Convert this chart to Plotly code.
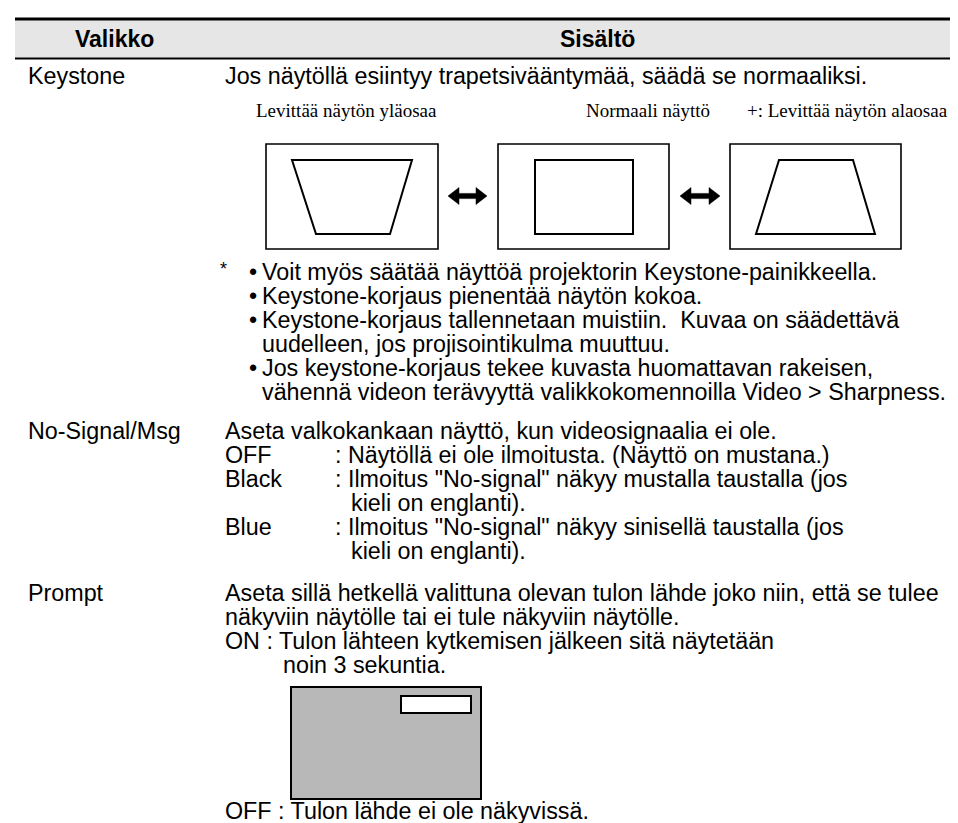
import plotly.graph_objects as go

W, H = 958, 823

# ---- text content ----
header_labels = ["Valikko", "Sisältö"]
menu_items = ["Keystone", "No-Signal/Msg", "Prompt"]
keystone_intro = "Jos näytöllä esiintyy trapetsivääntymää, säädä se normaaliksi."
diagram_captions = ["Levittää näytön yläosaa", "Normaali näyttö", "+: Levittää näytön alaosaa"]
keystone_notes = [
    ("•", "Voit myös säätää näyttöä projektorin Keystone-painikkeella."),
    ("•", "Keystone-korjaus pienentää näytön kokoa."),
    ("•", "Keystone-korjaus tallennetaan muistiin.  Kuvaa on säädettävä"),
    ("", "uudelleen, jos projisointikulma muuttuu."),
    ("•", "Jos keystone-korjaus tekee kuvasta huomattavan rakeisen,"),
    ("", "vähennä videon terävyyttä valikkokomennoilla Video > Sharpness."),
]
nosignal_intro = "Aseta valkokankaan näyttö, kun videosignaalia ei ole."
nosignal_options = ["OFF", "Black", "", "Blue", ""]
nosignal_desc = [
    ": Näytöllä ei ole ilmoitusta. (Näyttö on mustana.)",
    ': Ilmoitus "No-signal" näkyy mustalla taustalla (jos',
    "kieli on englanti).",
    ': Ilmoitus "No-signal" näkyy sinisellä taustalla (jos',
    "kieli on englanti).",
]
prompt_lines = [
    "Aseta sillä hetkellä valittuna olevan tulon lähde joko niin, että se tulee",
    "näkyviin näytölle tai ei tule näkyviin näytölle.",
    "ON : Tulon lähteen kytkemisen jälkeen sitä näytetään",
]
prompt_indent_line = "noin 3 sekuntia."
prompt_off = "OFF : Tulon lähde ei ole näkyvissä."

SANS = "Liberation Sans, Arial, Helvetica, sans-serif"
SERIF = "Liberation Serif, Times New Roman, serif"
FS = 23.3

fig = go.Figure()
ann = []
shapes = []

def txt(x, y, s, size=FS, family=SANS, anchor="left", bold=False):
    ann.append(dict(x=x, y=y, xref="x", yref="y", text=("<b>%s</b>" % s) if bold else s,
                    showarrow=False, xanchor=anchor, yanchor="middle",
                    font=dict(family=family, size=size, color="black"), borderpad=0))

# ---- header ----
shapes.append(dict(type="rect", x0=7, x1=W, y0=12, y1=50, fillcolor="#e6e6e6", line=dict(width=0), layer="below"))
shapes.append(dict(type="line", x0=7, x1=W, y0=11, y1=11, line=dict(color="black", width=3)))
shapes.append(dict(type="line", x0=7, x1=W, y0=50.5, y1=50.5, line=dict(color="black", width=2)))
txt(106, 31, header_labels[0], size=23, anchor="center", bold=True)
txt(589, 31, header_labels[1], size=23, anchor="center", bold=True)

COL1, COL2 = 19, 216

# ---- Keystone ----
txt(COL1, 68, menu_items[0])
txt(COL2, 68, keystone_intro)
for xc, cap in zip([247, 577, 738], diagram_captions):
    txt(xc, 102, cap, size=19, family=SERIF)

# screen boxes
for (bx0, bx1) in [(258, 430), (490, 661), (722, 893)]:
    shapes.append(dict(type="rect", x0=bx0, x1=bx1, y0=136, y1=241, line=dict(color="black", width=1.6)))

def poly(pts, fill=None, width=2):
    p = "M " + " L ".join("%g,%g" % pt for pt in pts) + " Z"
    d = dict(type="path", path=p, line=dict(color="black", width=width))
    if fill:
        d["fillcolor"] = fill
    return d

shapes.append(poly([(284, 152), (404, 152), (382, 226), (308, 226)]))
shapes.append(poly([(527, 152), (625, 152), (625, 226), (527, 226)]))
shapes.append(poly([(771, 152), (845, 152), (867, 226), (748, 226)]))

def dbl_arrow(x0, x1, yc):
    hl, hh, st = 11, 8.5, 2.6
    return poly([(x0, yc), (x0 + hl, yc - hh), (x0 + hl, yc - st), (x1 - hl, yc - st),
                 (x1 - hl, yc - hh), (x1, yc), (x1 - hl, yc + hh), (x1 - hl, yc + st),
                 (x0 + hl, yc + st), (x0 + hl, yc + hh)], fill="black", width=0.5)

shapes.append(dbl_arrow(440, 479, 188))
shapes.append(dbl_arrow(672, 712, 188))

# notes
txt(211, 261, "*", size=18)
for i, (b, line) in enumerate(keystone_notes):
    y = 264 + 24 * i
    if b:
        txt(240, y, b)
    txt(253, y, line)

# ---- No-Signal/Msg ----
COLON = 326
txt(COL1, 423, menu_items[1])
txt(COL2, 423, nosignal_intro)
for i, (opt, desc) in enumerate(zip(nosignal_options, nosignal_desc)):
    y = 447 + 24 * i
    if opt:
        txt(COL2, y, opt)
        txt(COLON, y, desc)
    else:
        txt(COLON + 16, y, desc)

# ---- Prompt ----
txt(COL1, 585, menu_items[2])
for i, line in enumerate(prompt_lines):
    txt(COL2, 585 + 24 * i, line)
txt(274, 657, prompt_indent_line)
shapes.append(dict(type="rect", x0=283, x1=473, y0=679, y1=791, fillcolor="#b8b8b8", line=dict(color="black", width=2)))
shapes.append(dict(type="rect", x0=393, x1=463, y0=688, y1=705, fillcolor="white", line=dict(color="black", width=2)))
txt(COL2, 803, prompt_off)

fig.update_layout(
    width=W, height=H, margin=dict(l=0, r=0, t=0, b=0),
    paper_bgcolor="white", plot_bgcolor="white",
    xaxis=dict(range=[0, W], visible=False, fixedrange=True),
    yaxis=dict(range=[H, 0], visible=False, fixedrange=True),
    annotations=ann, shapes=shapes, showlegend=False,
)
fig.write_html("out.html")
